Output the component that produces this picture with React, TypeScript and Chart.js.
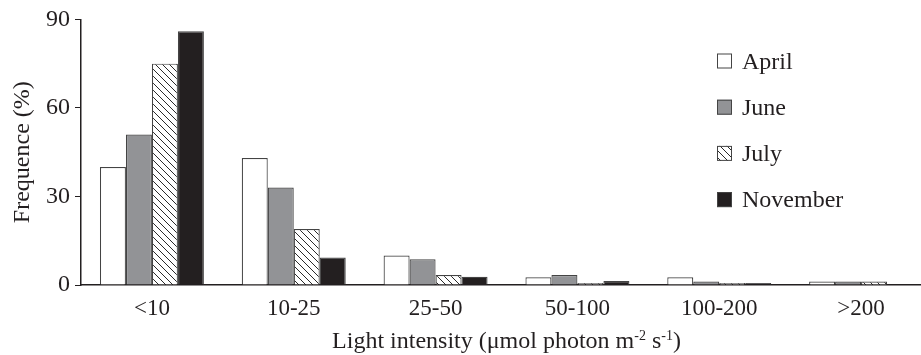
import React, { useEffect, useRef } from 'react';
import { Chart, registerables } from 'chart.js';

Chart.register(...registerables);

const categories = ['<10', '10-25', '25-50', '50-100', '100-200', '>200'];
const seriesNames = ['April', 'June', 'July', 'November'];
const april = [40, 43, 10, 2.6, 2.6, 1.2];
const june = [51, 33, 8.7, 3.4, 1.2, 1.2];
const july = [75, 19, 3.4, 0.7, 0.7, 1.2];
const november = [86, 9.3, 2.8, 1.35, 0.7, 0];
const yTicks = [0, 30, 60, 90];
const yTitle = 'Frequence (%)';
const xTitleMain = 'Light intensity (\u03bcmol photon m';
const xTitleSup1 = '-2';
const xTitleMid = ' s';
const xTitleSup2 = '-1';
const xTitleEnd = ')';

const FONT = "'Liberation Serif', 'Times New Roman', serif";
const INK = '#231f20';
const EDGE = '#444444';

function makeHatch(): CanvasPattern | string {
  const s = 7;
  const c = document.createElement('canvas');
  c.width = s;
  c.height = s;
  const g = c.getContext('2d');
  if (!g) return '#fff';
  g.fillStyle = '#ffffff';
  g.fillRect(0, 0, s, s);
  g.strokeStyle = '#2a2a2a';
  g.lineWidth = 1;
  g.beginPath();
  g.moveTo(0, 0);
  g.lineTo(s, s);
  g.moveTo(-2, s - 2);
  g.lineTo(2, s + 2);
  g.moveTo(s - 2, -2);
  g.lineTo(s + 2, 2);
  g.stroke();
  const p = g.createPattern(c, 'repeat');
  return p || '#fff';
}

export default function App() {
  const ref = useRef<HTMLCanvasElement | null>(null);

  useEffect(() => {
    if (!ref.current) return;
    const hatch = makeHatch();
    const fills: (string | CanvasPattern)[] = ['#ffffff', '#929396', hatch, INK];
    const values = [april, june, july, november];

    const legendPlugin = {
      id: 'customLegend',
      afterDraw(chart: any) {
        const ctx = chart.ctx as CanvasRenderingContext2D;
        const area = chart.chartArea;
        const x0 = area.right - 215;
        ctx.save();
        chart.data.datasets.forEach((ds: any, i: number) => {
          const cy = 61 + i * 46.2;
          ctx.fillStyle = ds.backgroundColor;
          ctx.fillRect(x0, cy - 7.5, 15, 15);
          ctx.strokeStyle = EDGE;
          ctx.lineWidth = 1;
          ctx.strokeRect(x0 + 0.5, cy - 7.5 + 0.5, 14, 14);
          ctx.fillStyle = INK;
          ctx.font = `24px ${FONT}`;
          ctx.textBaseline = 'alphabetic';
          ctx.textAlign = 'left';
          ctx.fillText(ds.label, x0 + 25, cy + 7.5);
        });
        ctx.restore();
      },
    };

    const xTitlePlugin = {
      id: 'xTitleSup',
      afterDraw(chart: any) {
        const ctx = chart.ctx as CanvasRenderingContext2D;
        const area = chart.chartArea;
        const big = `24px ${FONT}`;
        const small = `14px ${FONT}`;
        const parts: [string, string, number][] = [
          [xTitleMain, big, 0],
          [xTitleSup1, small, -8],
          [xTitleMid, big, 0],
          [xTitleSup2, small, -8],
          [xTitleEnd, big, 0],
        ];
        ctx.save();
        let total = 0;
        parts.forEach(([t, f]) => {
          ctx.font = f;
          total += ctx.measureText(t).width;
        });
        let x = (area.left + area.right) / 2 - total / 2;
        const base = 348;
        ctx.fillStyle = INK;
        ctx.textBaseline = 'alphabetic';
        ctx.textAlign = 'left';
        parts.forEach(([t, f, dy]) => {
          ctx.font = f;
          ctx.fillText(t, x, base + dy);
          x += ctx.measureText(t).width;
        });
        ctx.restore();
      },
    };

    const chart = new Chart(ref.current, {
      type: 'bar',
      data: {
        labels: categories,
        datasets: seriesNames.map((name, i) => ({
          label: name,
          data: values[i],
          backgroundColor: fills[i] as any,
          borderColor: EDGE,
          borderWidth: 1.2,
          borderSkipped: 'bottom' as const,
          categoryPercentage: 0.733,
          barPercentage: 1.0,
        })),
      },
      options: {
        animation: false,
        responsive: true,
        maintainAspectRatio: false,
        layout: { padding: { top: 18, right: 8, bottom: 0, left: 0 } },
        plugins: {
          legend: { display: false },
          tooltip: { enabled: false },
        },
        scales: {
          x: {
            afterFit(scale: any) {
              scale.height = 70;
            },
            grid: { display: false, drawTicks: false },
            border: { display: true, color: INK, width: 1.5 },
            ticks: {
              color: INK,
              font: { family: FONT, size: 23 },
              padding: 10,
              maxRotation: 0,
              autoSkip: false,
            },
          },
          y: {
            min: 0,
            max: 90,
            afterFit(scale: any) {
              scale.width = 81;
            },
            afterBuildTicks(scale: any) {
              scale.ticks = yTicks.map((v) => ({ value: v }));
            },
            grid: {
              display: true,
              drawOnChartArea: false,
              drawTicks: true,
              tickLength: 6,
              color: INK,
              lineWidth: 1,
            },
            border: { display: true, color: INK, width: 1.5 },
            ticks: {
              color: INK,
              font: { family: FONT, size: 24 },
              padding: 5,
            },
            title: {
              display: true,
              text: yTitle,
              color: INK,
              font: { family: FONT, size: 24 },
              padding: { top: 8, bottom: 0 },
            },
          },
        },
      },
      plugins: [legendPlugin, xTitlePlugin],
    });
    return () => chart.destroy();
  }, []);

  return (
    <div style={{ position: 'fixed', left: 0, top: 0, width: 940, height: 355, background: '#fff' }}>
      <canvas ref={ref} />
    </div>
  );
}
